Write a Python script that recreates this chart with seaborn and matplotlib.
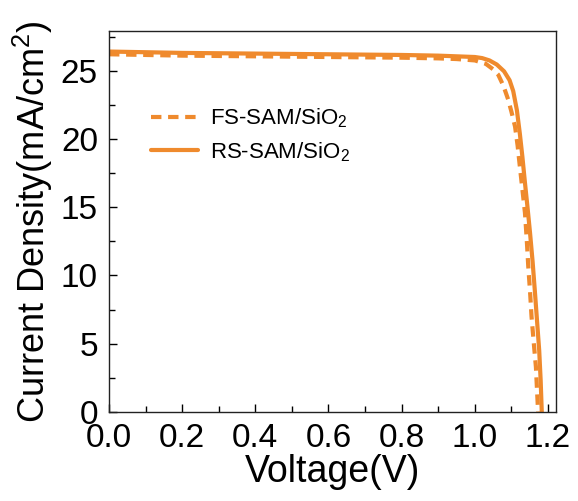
import numpy as np
import pandas as pd
import seaborn as sns
import matplotlib.pyplot as plt
from matplotlib.ticker import MultipleLocator

# voltage / current density
fs_voltage = [0.0, 0.2, 0.4, 0.6, 0.8, 0.9, 0.95, 1.0, 1.03, 1.05, 1.064, 1.078,
              1.091, 1.100, 1.110, 1.117, 1.123, 1.130, 1.137, 1.142, 1.146,
              1.151, 1.155, 1.161, 1.167, 1.170, 1.173]
fs_current = [26.2, 26.1, 26.05, 26.0, 25.95, 25.9, 25.85, 25.75, 25.5, 25.1, 24.7, 23.9,
              22.9, 22.0, 20.9, 19.5, 18.0, 16.3, 14.6, 12.6, 10.7,
              8.8, 7.0, 5.1, 3.3, 1.6, 0.0]

rs_voltage = [0.0, 0.2, 0.4, 0.6, 0.8, 0.9, 0.95, 1.0, 1.02, 1.04, 1.06, 1.08,
              1.095, 1.105, 1.115, 1.123, 1.130, 1.137, 1.144, 1.151, 1.158,
              1.164, 1.170, 1.176, 1.180, 1.183]
rs_current = [26.4, 26.3, 26.25, 26.2, 26.15, 26.1, 26.05, 26.0, 25.92, 25.75, 25.45, 24.95,
              24.3, 23.5, 22.1, 20.4, 18.7, 16.8, 15.0, 13.1, 11.0,
              8.9, 6.7, 4.5, 2.3, 0.0]

labels = ['FS-SAM/SiO$_2$', 'RS-SAM/SiO$_2$']
ORANGE = '#EF8A2D'

sns.set_style('ticks')
plt.rcParams['font.family'] = ['Liberation Sans', 'DejaVu Sans']
plt.rcParams['mathtext.fontset'] = 'custom'
plt.rcParams['mathtext.rm'] = 'Liberation Sans'
plt.rcParams['text.color'] = 'black'
plt.rcParams['axes.labelcolor'] = 'black'
plt.rcParams['xtick.color'] = 'black'
plt.rcParams['ytick.color'] = 'black'

fs = pd.DataFrame({'V': fs_voltage, 'J': fs_current})
rs = pd.DataFrame({'V': rs_voltage, 'J': rs_current})

fig = plt.figure(figsize=(5.78, 5.01), dpi=100)
ax = fig.add_axes([0.1886, 0.1776, 0.7734, 0.7604])

sns.lineplot(data=fs, x='V', y='J', ax=ax, sort=False, color=ORANGE, lw=3,
             label=labels[0]).lines[0].set_dashes([2.5, 1.6])
sns.lineplot(data=rs, x='V', y='J', ax=ax, sort=False, color=ORANGE, lw=3,
             label=labels[1])

ax.set_xlim(0, 1.222)
ax.set_ylim(0, 27.9)
ax.xaxis.set_major_locator(MultipleLocator(0.2))
ax.xaxis.set_minor_locator(MultipleLocator(0.1))
ax.yaxis.set_major_locator(MultipleLocator(5))
ax.yaxis.set_minor_locator(MultipleLocator(2.5))
ax.xaxis.set_major_formatter(plt.FormatStrFormatter('%.1f'))
ax.tick_params(which='major', direction='in', length=6, width=1, labelsize=24, pad=8)
ax.tick_params(which='minor', direction='in', length=4, width=1)
for s in ax.spines.values():
    s.set_linewidth(1)
    s.set_color('#222222')

ax.set_xlabel('Voltage(V)', fontsize=27, labelpad=0)
ax.set_ylabel('Current Density(mA/cm$^2$)', fontsize=26, labelpad=4)

leg = ax.legend(loc='upper left', bbox_to_anchor=(0.05, 0.855), frameon=False,
                fontsize=16, handlelength=2.1, handletextpad=0.55, labelspacing=0.45)

plt.savefig('out.png', dpi=100)
